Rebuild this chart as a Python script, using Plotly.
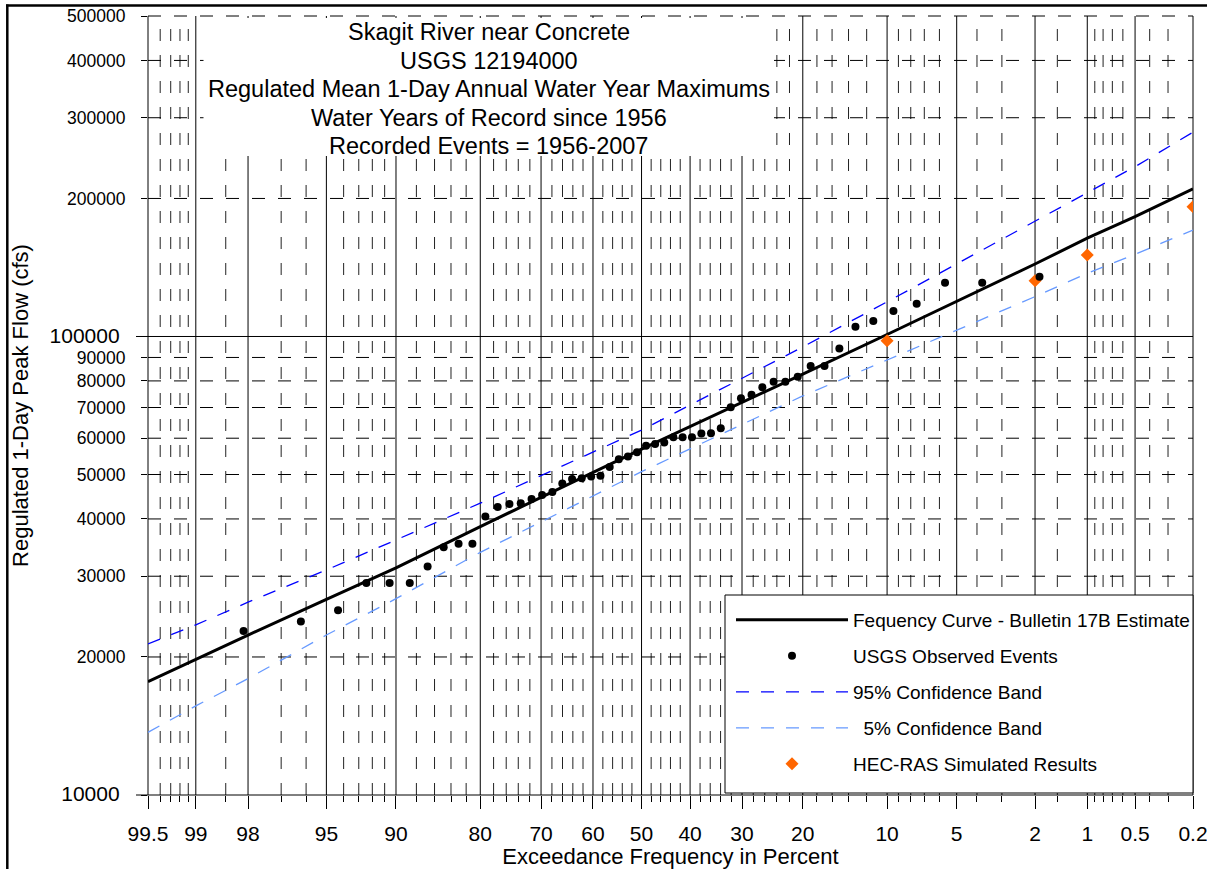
import math
from statistics import NormalDist
import plotly.graph_objects as go

# ---------------- data ----------------
curve_pct = [99.5, 99, 98, 95, 90, 80, 50, 20, 10, 2, 1, 0.5, 0.2]
curve_flow = [17670, 19770, 22330, 26720, 31300, 38500, 56800, 82800, 101000, 143900, 163800, 182500, 209800]
band95_flow = [21350, 23500, 26330, 30960, 36000, 43300, 62500, 94900, 119000, 178000, 205900, 234600, 278900]
band5_flow = [13700, 15640, 17940, 22330, 26800, 33830, 50720, 74190, 88860, 122170, 137330, 151100, 170700]

obs_pct = [1.89, 3.77, 5.66, 7.55, 9.43, 11.32, 13.21, 15.09, 16.98, 18.87,
           20.75, 22.64, 24.53, 26.42, 28.30, 30.19, 32.08, 33.96, 35.85, 37.74,
           39.62, 41.51, 43.40, 45.28, 47.17, 49.06, 50.94, 52.83, 54.72, 56.60,
           58.49, 60.38, 62.26, 64.15, 66.04, 67.92, 69.81, 71.70, 73.58, 75.47,
           77.36, 79.25, 81.13, 83.02, 84.91, 86.79, 88.68, 90.57, 92.45, 94.34,
           96.23, 98.11]
obs_flow = [135000, 131000, 131000, 117900, 113700, 108100, 105000, 94100, 86200, 86200,
            81700, 79700, 79700, 77500, 74600, 73300, 70100, 63100, 61500, 61400,
            60300, 60300, 60300, 58700, 58300, 57800, 55900, 54700, 54000, 51900,
            49700, 49500, 49100, 48900, 47800, 45800, 45100, 44200, 43300, 43100,
            42500, 40500, 35300, 35300, 34700, 31500, 29000, 29000, 29000, 25300,
            23900, 22800]

hec_pct = [10, 2, 1, 0.2]
hec_flow = [97900, 132300, 150600, 191900]

x_major = [99.5, 99, 98, 95, 90, 80, 70, 60, 50, 40, 30, 20, 10, 5, 2, 1, 0.5, 0.2]
x_labels = ["99.5", "99", "98", "95", "90", "80", "70", "60", "50", "40", "30",
            "20", "10", "5", "2", "1", "0.5", "0.2"]
x_minor = [99.4, 99.3, 99.2, 99.1, 98.5, 97, 96, 94, 93, 92, 91, 88, 86, 84, 82,
           78, 76, 74, 72, 68, 66, 64, 62, 58, 56, 54, 52, 48, 46, 44, 42,
           38, 36, 34, 32, 28, 26, 24, 22, 18, 16, 14, 12, 9, 8, 7, 6, 4, 3, 1.5,
           0.9, 0.8, 0.7, 0.6, 0.4, 0.3]
y_ticks = [10000, 20000, 30000, 40000, 50000, 60000, 70000, 80000, 90000,
           100000, 200000, 300000, 400000, 500000]
y_solid = [10000, 100000]

title_lines = ["Skagit River near Concrete", "USGS 12194000",
               "Regulated Mean 1-Day Annual Water Year Maximums",
               "Water Years of Record since 1956", "Recorded Events = 1956-2007"]

# ---------------- scales ----------------
ND = NormalDist()


def u(p):
    """normal-probability coordinate of an exceedance percentage"""
    return ND.inv_cdf(1.0 - p / 100.0)


XMIN, XMAX = u(99.5), u(0.2)
YMIN, YMAX = 4.0, math.log10(500000)

W, H = 1207, 869
ML, MR, MT, MB = 148, 14, 16, 74
PW, PH = W - ML - MR, H - MT - MB


def xp(p):  # paper x of a percentage
    return (u(p) - XMIN) / (XMAX - XMIN)


def yp(v):  # paper y of a flow
    return (math.log10(v) - YMIN) / (YMAX - YMIN)


def px2x(px):
    return (px - ML) / PW


def px2y(py):
    return 1 - (py - MT) / PH


FONT = "Liberation Sans, Arial, sans-serif"

fig = go.Figure()

fig.add_trace(go.Scatter(
    x=[u(p) for p in curve_pct], y=curve_flow, mode="lines",
    line=dict(color="black", width=3),
    name="Fequency Curve - Bulletin 17B Estimate", legendgroup="g1", legendrank=1))
fig.add_trace(go.Scatter(
    x=[u(p) for p in curve_pct], y=band95_flow, mode="lines",
    line=dict(color="#0000FF", width=1.3, dash="13px,12px"),
    name="95% Confidence Band", legendgroup="g3", legendrank=3))
fig.add_trace(go.Scatter(
    x=[u(p) for p in curve_pct], y=band5_flow, mode="lines",
    line=dict(color="#6699FF", width=1.3, dash="13px,12px"),
    name="\u00a0\u00a05% Confidence Band", legendgroup="g4", legendrank=4))
fig.add_trace(go.Scatter(
    x=[u(p) for p in hec_pct], y=hec_flow, mode="markers",
    marker=dict(symbol="diamond", size=10, color="#FF6600"),
    name="HEC-RAS Simulated Results", legendgroup="g5", legendrank=5))
fig.add_trace(go.Scatter(
    x=[u(p) for p in obs_pct], y=obs_flow, mode="markers",
    marker=dict(symbol="circle", size=8, color="black"),
    name="USGS Observed Events", legendgroup="g2", legendrank=2))

shapes = []
# minor vertical dashed grid
for p in x_minor:
    shapes.append(dict(type="line", xref="paper", yref="paper", x0=xp(p), x1=xp(p),
                       y0=0, y1=1, layer="below",
                       line=dict(color="#222222", width=1, dash="12px,14px")))
# major vertical solid grid
for p in x_major:
    shapes.append(dict(type="line", xref="paper", yref="paper", x0=xp(p), x1=xp(p),
                       y0=0, y1=1, layer="below",
                       line=dict(color="black", width=1)))
# horizontal grid
for v in y_ticks:
    solid = v in y_solid
    shapes.append(dict(type="line", xref="paper", yref="paper",
                       x0=px2x(136) if solid else 0, x1=1, y0=yp(v), y1=yp(v),
                       layer="below",
                       line=dict(color="black", width=1,
                                 dash="solid" if solid else "13px,13px")))
# title box
shapes.append(dict(type="rect", xref="paper", yref="paper",
                   x0=px2x(203.5), x1=px2x(774), y0=px2y(156), y1=px2y(18),
                   fillcolor="white", line=dict(width=0), layer="below"))
# legend box
shapes.append(dict(type="rect", xref="paper", yref="paper",
                   x0=px2x(725), x1=1, y0=px2y(793), y1=px2y(595),
                   fillcolor="white", line=dict(color="black", width=1), layer="below"))
# outer frame
shapes.append(dict(type="line", xref="paper", yref="paper",
                   x0=px2x(6), x1=px2x(1210), y0=px2y(5.5), y1=px2y(5.5),
                   line=dict(color="black", width=2.5)))
shapes.append(dict(type="line", xref="paper", yref="paper",
                   x0=px2x(7.3), x1=px2x(7.3), y0=px2y(4.5), y1=px2y(875),
                   line=dict(color="black", width=2.5)))

annotations = []
title_y = [32, 60.5, 89, 117.5, 146]
for t, ty in zip(title_lines, title_y):
    annotations.append(dict(text=t, xref="paper", yref="paper", x=px2x(488.5), y=px2y(ty),
                            xanchor="center", yanchor="middle", showarrow=False,
                            font=dict(family=FONT, size=23.5, color="black")))

y_text = []
for v in y_ticks:
    if v in y_solid:
        y_text.append('<span style="font-size:21px">%d&nbsp;</span>' % v)
    else:
        y_text.append("%d" % v)

fig.update_layout(
    width=W, height=H,
    margin=dict(l=ML, r=MR, t=MT, b=MB, pad=0, autoexpand=False),
    paper_bgcolor="white", plot_bgcolor="white",
    shapes=shapes, annotations=annotations,
    showlegend=True,
    legend=dict(x=px2x(731), y=px2y(601), xanchor="left", yanchor="top",
                bgcolor="rgba(0,0,0,0)", borderwidth=0,
                font=dict(family=FONT, size=19, color="black"),
                itemwidth=112, traceorder="grouped", tracegroupgap=8.3),
    xaxis=dict(range=[XMIN, XMAX], tickmode="array",
               tickvals=[u(p) for p in x_major], ticktext=x_labels,
               ticks="outside", ticklen=13, tickwidth=1, tickcolor="black",
               showgrid=False, zeroline=False, showline=False,
               tickfont=dict(family=FONT, size=21, color="black"),
               ticklabelstandoff=7, ticklabeloverflow="allow",
               minor=dict(tickmode="array", tickvals=[u(p) for p in x_minor],
                          ticks="outside", ticklen=6, tickwidth=1, tickcolor="black",
                          showgrid=False),
               title=dict(text="Exceedance Frequency in Percent",
                          font=dict(family=FONT, size=22, color="black"), standoff=9),
               automargin=False),
    yaxis=dict(type="log", range=[YMIN, YMAX], tickmode="array",
               tickvals=y_ticks, ticktext=y_text,
               ticks="outside", ticklen=6, tickwidth=1, tickcolor="black",
               showgrid=False, zeroline=False, showline=False,
               tickfont=dict(family=FONT, size=17.5, color="black"),
               ticklabelstandoff=12, ticklabeloverflow="allow",
               title=dict(text="Regulated 1-Day Peak Flow (cfs)",
                          font=dict(family=FONT, size=22, color="black"), standoff=14),
               automargin=False),
)

fig.write_html("out.html")
